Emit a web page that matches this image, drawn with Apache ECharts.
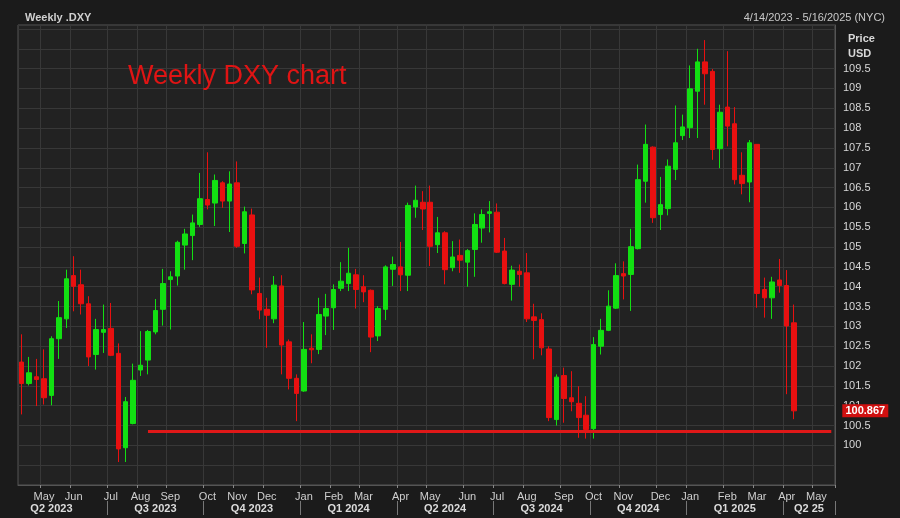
<!DOCTYPE html>
<html><head><meta charset="utf-8">
<script src="https://cdn.jsdelivr.net/npm/echarts@6/dist/echarts.min.js"></script>
<style>html,body{margin:0;padding:0;background:#1b1b1b;}#c{width:900px;height:518px;}</style>
</head><body><div id="c"></div>
<script>
// weekly OHLC [open, close, low, high]
const opens =  [102.10,101.56,101.73,101.68,101.26,102.69,103.19,104.28,104.05,103.57,102.29,102.85,102.95,102.32,99.94,100.55,101.90,102.15,102.86,103.43,104.18,104.27,105.05,105.29,105.57,106.20,106.11,106.62,106.16,106.62,
105.09,105.81,103.83,103.43,103.19,104.02,102.61,101.69,101.37,102.45,102.42,103.26,103.47,103.96,104.08,104.30,104.00,103.91,102.76,103.43,104.44,104.50,104.29,106.01,106.13,106.13,
105.06,105.36,104.48,104.79,104.62,104.94,105.48,105.85,105.88,104.90,104.06,104.39,104.35,103.24,103.17,102.43,100.65,101.76,101.20,101.06,100.76,100.42,102.50,102.90,103.46,104.33,
104.31,104.96,106.66,107.52,105.82,105.97,106.96,107.81,108.01,108.93,109.67,109.43,107.48,108.53,108.11,106.81,106.64,107.59,103.93,103.72,104.17,104.03,103.09];
const closes = [101.56,101.83,101.66,101.20,102.69,103.22,104.20,104.01,103.57,102.23,102.92,102.92,102.27,99.91,101.10,101.64,102.02,102.87,103.40,104.08,104.25,105.12,105.33,105.61,106.22,106.06,106.68,106.16,106.59,105.02,
105.89,103.92,103.41,103.28,104.04,102.53,101.69,101.31,102.42,102.41,103.30,103.45,103.93,104.14,104.34,103.93,103.87,102.73,103.45,104.50,104.56,104.30,106.05,106.18,105.96,105.02,
105.36,104.43,104.75,104.67,104.91,105.57,105.82,105.89,104.87,104.08,104.42,104.31,103.19,103.15,102.46,100.70,101.72,101.18,101.10,100.70,100.40,102.54,102.90,103.51,104.28,104.27,
105.01,106.70,107.59,105.74,106.07,107.04,107.63,108.03,108.99,109.67,109.37,107.46,108.40,108.05,106.70,106.60,107.63,103.83,103.72,104.12,104.03,103.01,100.87];
const highs =  [102.80,102.23,102.18,102.42,102.75,103.64,104.43,104.77,104.43,103.76,103.19,103.55,103.59,102.57,101.22,102.06,102.88,102.91,103.69,104.45,104.39,105.16,105.46,105.82,106.87,107.39,106.83,106.66,106.91,107.16,
106.02,105.97,104.23,103.72,104.27,104.29,102.67,101.79,103.11,102.80,103.72,103.82,104.06,104.62,104.98,104.45,104.29,103.93,103.51,104.54,104.76,105.13,106.12,106.55,106.41,106.55,
105.76,105.40,105.15,105.19,104.95,105.85,105.95,106.16,106.10,105.23,104.53,104.56,104.85,103.57,103.33,102.50,101.79,101.96,101.87,101.49,101.24,102.73,103.19,103.91,104.59,104.64,
105.46,107.08,108.09,107.54,106.77,107.21,108.57,108.34,109.58,110.00,110.22,109.49,108.59,109.94,108.53,107.39,107.70,107.59,104.23,104.25,104.70,104.42,103.55];
const lows =   [100.78,101.51,100.99,101.03,101.01,102.18,102.96,103.38,103.30,102.00,101.91,102.33,102.25,99.58,99.58,100.53,101.75,101.79,102.80,103.02,102.92,104.03,104.43,104.67,105.51,105.95,105.53,105.99,105.38,104.98,
104.84,103.81,103.18,102.46,103.08,101.79,101.41,100.61,101.35,102.07,102.30,102.78,102.91,103.89,103.89,103.45,103.61,102.35,102.63,103.16,104.02,103.89,103.89,105.74,105.43,104.52,
104.85,104.06,104.39,104.35,104.00,104.25,105.11,105.37,104.85,104.06,103.65,104.00,103.11,102.17,102.27,100.61,100.50,100.57,100.86,100.19,100.17,100.17,102.29,102.88,103.44,103.68,
103.39,104.94,106.12,105.61,105.43,105.80,106.69,107.70,107.75,107.75,108.59,107.20,106.99,107.54,106.58,106.33,106.13,103.47,103.22,103.19,103.85,101.29,100.66];
const supportLevel = 100.36;
const lastPrice = '100.867';
const monthNames = ['Jan','Feb','Mar','Apr','May','Jun','Jul','Aug','Sep','Oct','Nov','Dec'];
const startDate = '2023-04-14';
const totalWeeks = 110;

const dates = [];
const t0 = new Date(startDate + 'T00:00:00Z').getTime();
for (let i = 0; i < totalWeeks; i++) dates.push(new Date(t0 + i * 7 * 86400000));
const cats = dates.map(d => d.toISOString().slice(0, 10));
const ohlc = opens.map((o, i) => [o, closes[i], lows[i], highs[i]]);

const monthLbl = {}, qLbl = {}, qBound = {};
dates.forEach((d, i) => {
  const day = d.getUTCDate(), m = d.getUTCMonth();
  if (day <= 7) monthLbl[i] = monthNames[m];
  if (m % 3 === 1 && day >= 12 && day <= 18 && i < 100) {
    qLbl[i] = 'Q' + (Math.floor(m / 3) + 1) + ' ' + d.getUTCFullYear();
  }
  if (i > 0 && m % 3 === 0 && dates[i - 1].getUTCMonth() !== m) qBound[i] = true;
});
qLbl[106] = 'Q2 25';

const chart = echarts.init(document.getElementById('c'));
chart.setOption({
  backgroundColor: '#1b1b1b',
  animation: false,
  title: [
    {text: 'Weekly .DXY', left: 20, top: 7, textStyle: {color: '#d0d0d0', fontSize: 11, fontWeight: 'bold', fontFamily: 'Liberation Sans'}},
    {text: '4/14/2023 - 5/16/2025 (NYC)', right: 10, top: 7, textStyle: {color: '#c8c8c8', fontSize: 11, fontWeight: 'normal', fontFamily: 'Liberation Sans'}},
    {text: 'Weekly DXY chart', left: 123, top: 58, textStyle: {color: '#e01414', fontSize: 27, fontWeight: 'normal', fontFamily: 'Liberation Sans'}},
    {text: 'Price\nUSD', left: 843, top: 26, textStyle: {color: '#d8d8d8', fontSize: 11, fontWeight: 'bold', lineHeight: 15, fontFamily: 'Liberation Sans'}}
  ],
  grid: {left: 18, right: 65, top: 25, bottom: 33, show: true, backgroundColor: '#222222', borderColor: '#555', borderWidth: 1},
  xAxis: [{
    type: 'category', data: cats, boundaryGap: true,
    axisLine: {lineStyle: {color: '#555'}},
    axisTick: {show: true, interval: (i) => !!monthLbl[i], lineStyle: {color: '#888'}, length: 3},
    axisLabel: {interval: 0, color: '#cfcfcf', fontSize: 11, margin: 6, fontFamily: 'Liberation Sans',
      formatter: (v, i) => monthLbl[i] || ''},
    splitLine: {show: true, interval: (i) => !!monthLbl[i], lineStyle: {color: '#383838'}}
  }, {
    type: 'category', data: cats, position: 'bottom', offset: 16, gridIndex: 0,
    axisLine: {show: false},
    axisTick: {show: true, inside: false, interval: (i) => !!qBound[i], lineStyle: {color: '#777'}, length: 14},
    axisLabel: {interval: 0, color: '#dcdcdc', fontSize: 11, fontWeight: 'bold', margin: 2, fontFamily: 'Liberation Sans',
      formatter: (v, i) => qLbl[i] || ''}
  }],
  yAxis: {
    type: 'value', position: 'right', min: 99.0, max: 110.6, interval: 0.5, scale: true,
    axisLine: {show: true, lineStyle: {color: '#555'}},
    axisTick: {show: false},
    axisLabel: {color: '#d8d8d8', fontSize: 11, margin: 8, fontFamily: 'Liberation Sans',
      formatter: v => (v < 100 || v > 109.6) ? '' : String(v)},
    splitLine: {lineStyle: {color: '#383838'}}
  },
  series: [{
    type: 'candlestick', data: ohlc, barWidth: 5, xAxisIndex: 0,
    itemStyle: {color: '#12e012', color0: '#e81010', borderColor: '#12e012', borderColor0: '#e81010', borderWidth: 1},
    markLine: {
      symbol: 'none', silent: true,
      lineStyle: {color: '#e01818', width: 3, type: 'solid'},
      label: {show: false},
      data: [[{coord: [cats[17], supportLevel]}, {coord: [cats[109], supportLevel]}]]
    },
    markPoint: {
      symbol: 'rect', symbolSize: [46, 13], silent: true,
      itemStyle: {color: '#d01010'},
      label: {show: true, color: '#fff', fontSize: 11, fontWeight: 'bold', formatter: lastPrice},
      data: [{coord: [cats[109], 100.87], symbolOffset: [34, 0]}]
    }
  }]
});
</script></body></html>
